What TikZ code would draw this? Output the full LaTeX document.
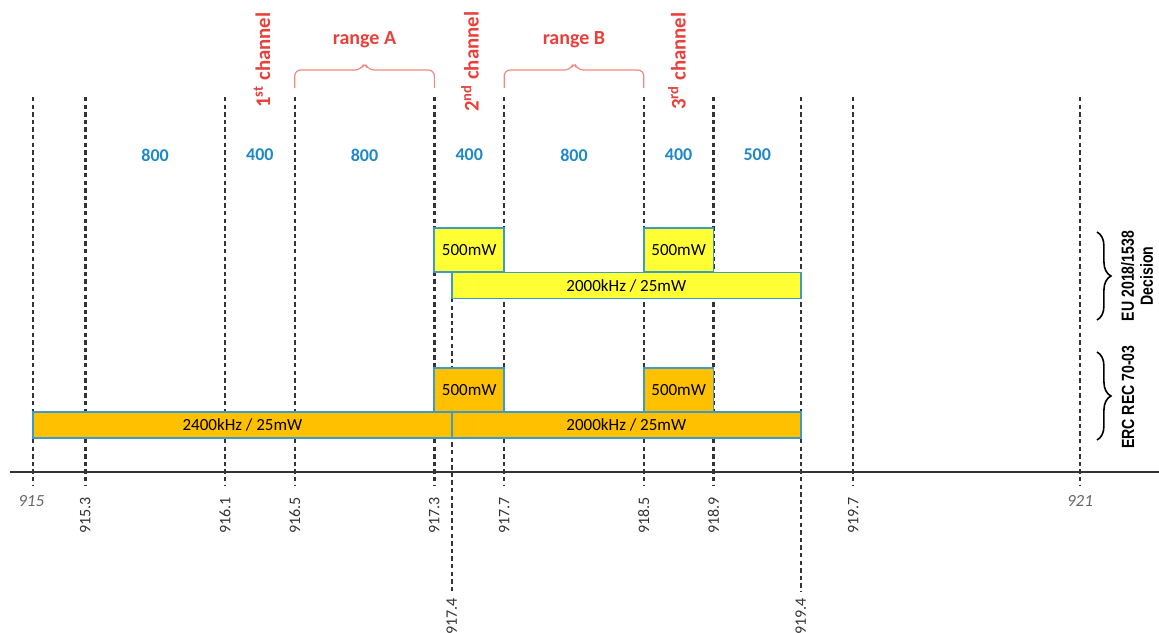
\documentclass[tikz,border=0pt]{standalone}
\usepackage{fontspec}
\setmainfont{Carlito}
\newfontfamily\narrowfont[FakeStretch=0.8]{Liberation Sans}
\usetikzlibrary{decorations.pathreplacing}
\definecolor{euyellow}{HTML}{FFFF33}
\definecolor{ercorange}{HTML}{FFC000}
\definecolor{boxedge}{HTML}{3E9BC8}
\definecolor{chanred}{HTML}{E8403A}
\definecolor{bracered}{HTML}{F08A80}
\definecolor{numblue}{HTML}{1F88C6}
\definecolor{gridgray}{HTML}{333333}
\tikzset{
  box-eu/.style={draw=boxedge,fill=euyellow,line width=0.9pt,inner sep=0pt,outer sep=0pt,font=\fontsize{8.5}{10}\selectfont},
  box-erc/.style={box-eu,fill=ercorange},
  box-small/.style={minimum width=34.9pt,minimum height=22pt},
  box-bar/.style={minimum height=13pt},
  grid-line/.style={draw=gridgray,line width=1.2pt,dash pattern=on 2.2pt off 1.6pt},
  axis-line/.style={draw=gridgray,line width=1.1pt},
  tick-lab/.style={rotate=90,anchor=east,inner sep=0pt,text=gridgray,font=\fontsize{8}{10}\selectfont},
  end-lab/.style={inner sep=0pt,text=black!60,font=\itshape\fontsize{8.5}{10}\selectfont},
  band-num/.style={inner sep=0pt,text=numblue,font=\bfseries\fontsize{9}{11}\selectfont},
  chan-lab/.style={rotate=90,anchor=west,inner sep=0pt,text=chanred,font=\bfseries\fontsize{10.4}{12}\selectfont},
  range-lab/.style={inner sep=0pt,text=chanred,font=\bfseries\fontsize{10}{12}\selectfont},
  range-brace/.style={draw=bracered,line width=0.6pt,rounded corners=3pt},
  reg-brace/.style={draw=black,line width=0.8pt,decorate,decoration={brace,amplitude=7pt}},
  reg-lab/.style={rotate=90,align=center,inner sep=0pt,font=\narrowfont\bfseries\fontsize{8.8}{9.6}\selectfont},
}

\begin{document}
\begin{tikzpicture}[x=87.25pt,y=-0.5pt]
  \useasboundingbox (-0.1891,0) rectangle (6.4527,632);

  % frequency grid (x = MHz above 915)
  \foreach \f/\lab [count=\i] in {0.3/915.3,1.1/916.1,1.5/916.5,2.3/917.3,2.7/917.7,3.5/918.5,3.9/918.9,4.7/919.7} {
    \draw[grid-line] (\f,97) -- (\f,485);
    \node[tick-lab] (tick\i) at (\f,497) {\lab};
  }
  \draw[grid-line] (0,97) -- (0,485);
  \draw[grid-line] (6,97) -- (6,485);
  \draw[grid-line] (4.4,97) -- (4.4,592);
  \draw[grid-line] (2.4,298) -- (2.4,592);
  \node[tick-lab] (tick-a) at (2.4,598) {917.4};
  \node[tick-lab] (tick-b) at (4.4,598) {919.4};
  \node[end-lab] (f915) at (-0.01,501) {915};
  \node[end-lab] (f921) at (6,501) {921};
  \draw[axis-line] (-0.1318,472) -- (6.4527,472);

  % bandwidths
  \foreach \m/\w [count=\i] in {0.7/800,1.3/400,1.9/800,2.5/400,3.1/800,3.7/400,4.15/500}
    \node[band-num] (bw\i) at (\m,155) {\w};

  % channels and ranges
  \node[chan-lab] (ch1) at (1.312,108) {1\textsuperscript{st} channel};
  \node[chan-lab] (ch2) at (2.504,112) {2\textsuperscript{nd} channel};
  \node[chan-lab] (ch3) at (3.69,110) {3\textsuperscript{rd} channel};
  \node[range-lab] (rng-a) at (1.9,40) {range A};
  \node[range-lab] (rng-b) at (3.1,40) {range B};
  \draw[range-brace] (1.5,88) -- (1.5,70) -- (1.88,70) -- (1.9,62) -- (1.92,70) -- (2.3,70) -- (2.3,88);
  \draw[range-brace] (2.7,88) -- (2.7,70) -- (3.08,70) -- (3.1,62) -- (3.12,70) -- (3.5,70) -- (3.5,88);

  % EU 2018/1538 decision
  \node[box-eu,box-small] (eu-p1) at (2.5,250) {500mW};
  \node[box-eu,box-small] (eu-p2) at (3.7,250) {500mW};
  \node[box-eu,box-bar,minimum width=174.5pt] (eu-bar) at (3.4,285.5) {2000kHz / 25mW};

  % ERC REC 70-03
  \node[box-erc,box-small] (erc-p1) at (2.5,390) {500mW};
  \node[box-erc,box-small] (erc-p2) at (3.7,390) {500mW};
  \node[box-erc,box-bar,minimum width=209.4pt] (erc-a) at (1.2,425) {2400kHz / 25mW};
  \node[box-erc,box-bar,minimum width=174.5pt] (erc-b) at (3.4,425) {2000kHz / 25mW};

  % regulations
  \draw[reg-brace] (6.097,232) -- (6.097,320);
  \draw[reg-brace] (6.097,352) -- (6.097,440);
  \node[reg-lab] (eu-lab) at (6.327,276) {EU 2018/1538\\Decision};
  \node[reg-lab] (erc-lab) at (6.275,397) {ERC REC 70-03};

\end{tikzpicture}
\end{document}
